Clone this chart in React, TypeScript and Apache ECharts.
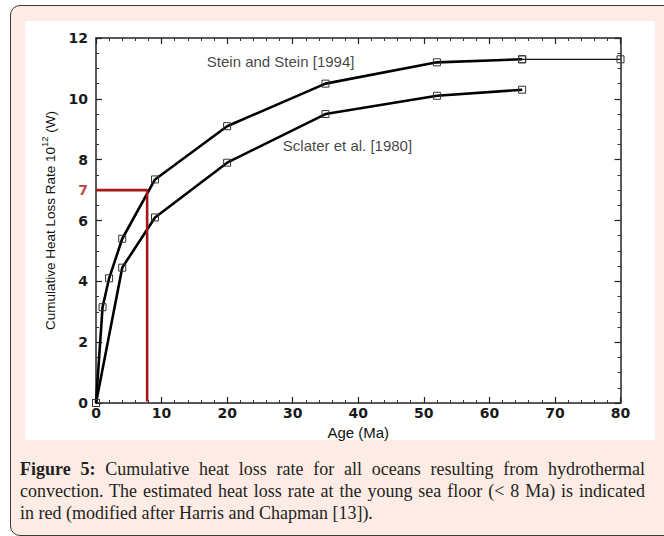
import React, { useEffect, useRef } from "react";
import * as echarts from "echarts";

// ---- data ----
const steinAge = [0, 1, 2, 4, 9, 20, 35, 52, 65, 80];
const steinRate = [0, 3.15, 4.1, 5.4, 7.35, 9.1, 10.5, 11.2, 11.3, 11.3];
const sclaterAge = [0, 4, 9, 20, 35, 52, 65];
const sclaterRate = [0, 4.45, 6.1, 7.9, 9.5, 10.1, 10.3];
const redAge = [0, 7.8, 7.8];
const redRate = [7, 7, 0.05];
const redLabel = "7";

const xRange = { min: 0, max: 80, interval: 10 };
const yRange = { min: 0, max: 12, interval: 2 };

const steinName = "Stein and Stein [1994]";
const sclaterName = "Sclater et al. [1980]";
const steinNameAt = [16.9, 11.22];
const sclaterNameAt = [28.5, 8.45];

const captionLines = [
  "Cumulative heat loss rate for all oceans resulting from hydrothermal",
  "convection. The estimated heat loss rate at the young sea floor (< 8 Ma) is indicated",
  "in red (modified after Harris and Chapman [13]).",
];

const FONT = "'Liberation Sans', Arial, Helvetica, sans-serif";
const TICK_FONT = "'DejaVu Sans', Verdana, sans-serif";
const RED = "#a51818";

function pairs(xs: number[], ys: number[]) {
  return xs.map((x, i) => [x, ys[i]]);
}

export default function App() {
  const ref = useRef<HTMLDivElement>(null);

  useEffect(() => {
    if (!ref.current) return;
    const chart = echarts.init(ref.current, null, { renderer: "svg" });

    const axisLine = { show: true, onZero: false, lineStyle: { color: "#222", width: 1.5 } };
    const tick = { show: true, inside: true, length: 6, lineStyle: { color: "#222", width: 1.2 } };
    const labelStyle = { fontSize: 14, fontWeight: "bold", color: "#1a1a1a", fontFamily: TICK_FONT };

    const symbolStyle = {
      color: "rgba(255,255,255,0)",
      borderColor: "#333",
      borderWidth: 1,
    };

    const steinPts = pairs(steinAge, steinRate);
    const n = steinPts.length;
    const redPts = pairs(redAge, redRate);

    const option: any = {
      animation: false,
      backgroundColor: "transparent",
      grid: { left: 96, right: 43.5, top: 38, bottom: 133, containLabel: false },
      xAxis: [
        {
          type: "value",
          position: "bottom",
          ...xRange,
          axisLine,
          axisTick: tick,
          minorTick: { show: true, splitNumber: 5, length: 3, lineStyle: { color: "#333", width: 1 } },
          splitLine: { show: false },
          axisLabel: { ...labelStyle, margin: 3 },
          name: "Age (Ma)",
          nameLocation: "middle",
          nameGap: 20,
          nameTextStyle: { fontSize: 15, color: "#111", fontFamily: FONT },
        },
        {
          type: "value",
          position: "top",
          ...xRange,
          axisLine,
          axisTick: tick,
          minorTick: { show: true, splitNumber: 5, length: 3, lineStyle: { color: "#333", width: 1 } },
          splitLine: { show: false },
          axisLabel: { show: false },
        },
      ],
      yAxis: [
        {
          type: "value",
          position: "left",
          ...yRange,
          axisLine,
          axisTick: tick,
          minorTick: { show: true, splitNumber: 4, length: 3, lineStyle: { color: "#333", width: 1 } },
          splitLine: { show: false },
          axisLabel: { ...labelStyle, margin: 8 },
          name: "{a|Cumulative Heat Loss Rate 10}{b|12}{a| (W)}",
          nameLocation: "middle",
          nameRotate: 90,
          nameGap: 38,
          nameTextStyle: {
            rich: {
              a: { fontSize: 13.5, color: "#111", fontFamily: FONT, lineHeight: 18, verticalAlign: "bottom" },
              b: { fontSize: 9.5, color: "#111", fontFamily: FONT, lineHeight: 18, verticalAlign: "top" },
            },
          },
        },
        {
          type: "value",
          position: "right",
          ...yRange,
          axisLine,
          axisTick: tick,
          minorTick: { show: true, splitNumber: 4, length: 3, lineStyle: { color: "#333", width: 1 } },
          splitLine: { show: false },
          axisLabel: { show: false },
        },
      ],
      series: [
        {
          name: sclaterName,
          type: "line",
          data: pairs(sclaterAge, sclaterRate),
          symbol: "rect",
          symbolSize: 7,
          showAllSymbol: true,
          itemStyle: symbolStyle,
          lineStyle: { color: "#000", width: 2.6 },
          z: 3,
        },
        {
          name: steinName,
          type: "line",
          data: steinPts.slice(0, n - 1),
          symbol: "rect",
          symbolSize: 7,
          showAllSymbol: true,
          itemStyle: symbolStyle,
          lineStyle: { color: "#000", width: 2.6 },
          z: 3,
        },
        {
          name: steinName + " tail",
          type: "line",
          data: steinPts.slice(n - 2),
          symbol: "rect",
          symbolSize: 7,
          itemStyle: symbolStyle,
          lineStyle: { color: "#111", width: 1.3 },
          z: 3,
        },
        {
          name: "young sea floor",
          type: "line",
          data: redPts,
          symbol: "none",
          lineStyle: { color: RED, width: 2.6 },
          z: 4,
        },
        {
          name: "annotations",
          type: "scatter",
          symbolSize: 0,
          silent: true,
          data: [
            { value: steinNameAt, name: steinName },
            { value: sclaterNameAt, name: sclaterName },
            {
              value: redPts[0],
              name: redLabel,
              label: {
                position: "left",
                distance: 8,
                color: RED,
                fontWeight: "bold",
                fontSize: 14,
                fontFamily: TICK_FONT,
              },
            },
          ],
          label: {
            show: true,
            position: "right",
            distance: 0,
            formatter: (p: any) => p.name,
            fontSize: 15,
            color: "#111",
            fontFamily: FONT,
          },
          z: 5,
        },
      ],
    };

    chart.setOption(option);
    return () => chart.dispose();
  }, []);

  return (
    <div
      style={{
        position: "fixed",
        left: 0,
        top: 0,
        width: 664,
        height: 536,
        overflow: "hidden",
        background: "#fff",
      }}
    >
      <div
        style={{
          position: "absolute",
          left: 10,
          top: 5,
          width: 680,
          height: 531,
          boxSizing: "border-box",
          border: "1.6px solid #3a3a3a",
          borderRadius: 10,
          background: "#fdece5",
        }}
      />
      <div
        style={{
          position: "absolute",
          left: 25,
          top: 21,
          width: 630,
          height: 419,
          background: "#ffffff",
        }}
      />
      <div ref={ref} style={{ position: "absolute", left: 0, top: 0, width: 664, height: 536 }} />
      <div
        style={{
          position: "absolute",
          left: 20,
          top: 458,
          width: 625,
          fontFamily: "'Liberation Serif', 'Times New Roman', serif",
          fontSize: 18,
          lineHeight: "22px",
          color: "#231f20",
        }}
      >
        <div style={{ textAlign: "justify", textAlignLast: "justify", whiteSpace: "nowrap" }}>
          <b>Figure 5:</b> {captionLines[0]}
        </div>
        <div style={{ textAlign: "justify", textAlignLast: "justify", whiteSpace: "nowrap" }}>
          {captionLines[1]}
        </div>
        <div style={{ whiteSpace: "nowrap" }}>{captionLines[2]}</div>
      </div>
    </div>
  );
}
